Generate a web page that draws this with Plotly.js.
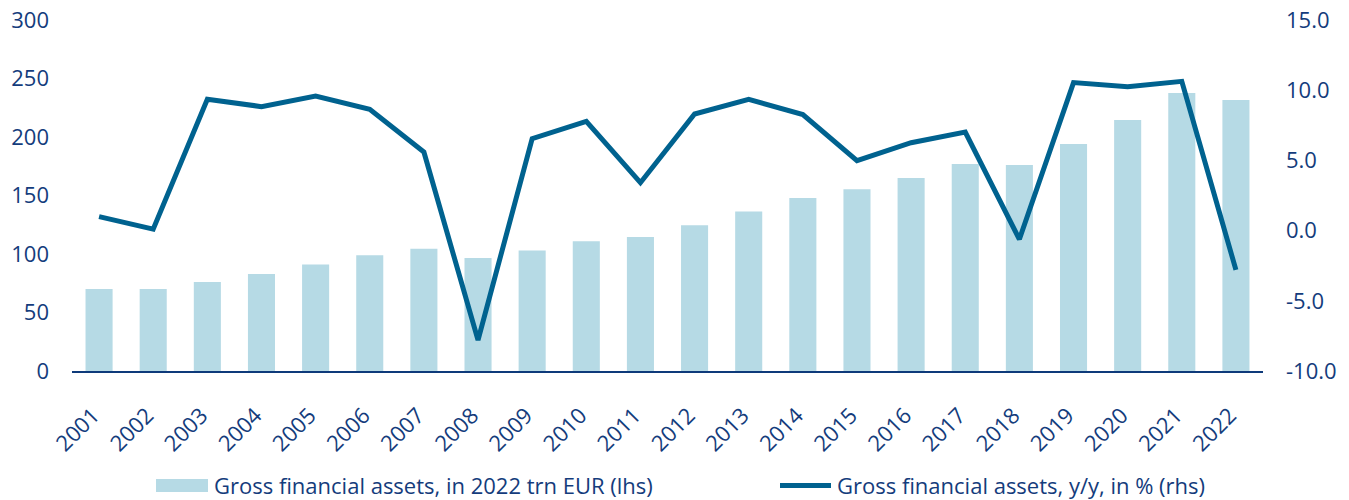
<!DOCTYPE html>
<html>
<head>
<meta charset="utf-8">
<script src="https://cdn.plot.ly/plotly-3.0.1.min.js"></script>
<style>
html,body{margin:0;padding:0;background:#fff;}
#chart{width:1349px;height:500px;}
</style>
</head>
<body>
<div id="chart"></div>
<script>
const years = ["2001","2002","2003","2004","2005","2006","2007","2008","2009","2010","2011","2012","2013","2014","2015","2016","2017","2018","2019","2020","2021","2022"];
const assetsTrnEur = [70,70,76,83,91,99,104.5,96.6,103,110.8,114.5,124.6,136.4,147.8,155.3,165,177,176,194,214.5,237.6,231.6];
const growthPct = [1.0,0.1,9.35,8.83,9.59,8.64,5.6,-7.8,6.55,7.78,3.41,8.3,9.35,8.26,4.98,6.26,7.02,-0.62,10.54,10.25,10.63,-2.8];
const leftTicks = [0,50,100,150,200,250,300];
const rightTicks = [-10,-5,0,5,10,15];
const rightTickText = ["-10.0","-5.0","0.0","5.0","10.0","15.0"];
const barName = "Gross financial assets, in 2022 trn EUR (lhs)";
const lineName = "Gross financial assets, y/y, in % (rhs)";

const textColor = "#143c7c";
const barColor = "#b6dae5";
const lineColor = "#00628f";
const fontFamily = "'Open Sans', Lato, sans-serif";

const W = 1349, H = 500;
const M = {l: 72, r: 86, t: 20, b: 129};
const PW = W - M.l - M.r, PH = H - M.t - M.b;
const px = x => (x - M.l) / PW;
const py = y => (H - M.b - y) / PH;

const data = [
  {type: "bar", x: years, y: assetsTrnEur, name: barName,
   marker: {color: barColor}, yaxis: "y"},
  {type: "scatter", mode: "lines", x: years, y: growthPct, name: lineName,
   line: {color: lineColor, width: 5}, yaxis: "y2"}
];

const layout = {
  width: W, height: H,
  margin: M,
  paper_bgcolor: "#fff",
  plot_bgcolor: "#fff",
  font: {family: fontFamily, color: textColor, size: 22},
  bargap: 0.5,
  showlegend: false,
  xaxis: {
    type: "category",
    tickangle: -45,
    showgrid: false,
    showline: true,
    linecolor: "#0e3a7a",
    linewidth: 2,
    ticks: "",
    ticklabelstandoff: 21,
    ticklabelshift: -6,
    tickfont: {size: 22, color: textColor},
    zeroline: false,
    automargin: false
  },
  yaxis: {
    range: [0, 300],
    tickvals: leftTicks,
    showgrid: false, zeroline: false, showline: false,
    ticks: "",
    ticklabelstandoff: 22,
    tickfont: {size: 22, color: textColor},
    automargin: false
  },
  yaxis2: {
    overlaying: "y",
    side: "right",
    range: [-10, 15],
    tickvals: rightTicks,
    ticktext: rightTickText,
    showgrid: false, zeroline: false, showline: false,
    ticks: "",
    ticklabelstandoff: 22,
    tickfont: {size: 22, color: textColor},
    automargin: false
  },
  shapes: [
    {type: "rect", xref: "paper", yref: "paper",
     x0: px(156), x1: px(208), y0: py(492), y1: py(479),
     fillcolor: barColor, line: {width: 0}},
    {type: "line", xref: "paper", yref: "paper",
     x0: px(780), x1: px(831), y0: py(485.5), y1: py(485.5),
     line: {color: lineColor, width: 5}}
  ],
  annotations: [
    {xref: "paper", yref: "paper", x: px(212), y: py(485), xanchor: "left", yanchor: "middle",
     text: barName, showarrow: false, font: {size: 22, color: textColor}},
    {xref: "paper", yref: "paper", x: px(835), y: py(485), xanchor: "left", yanchor: "middle",
     text: lineName, showarrow: false, font: {size: 22, color: textColor}}
  ]
};

Plotly.newPlot("chart", data, layout, {displayModeBar: false, staticPlot: true});
</script>
</body>
</html>
